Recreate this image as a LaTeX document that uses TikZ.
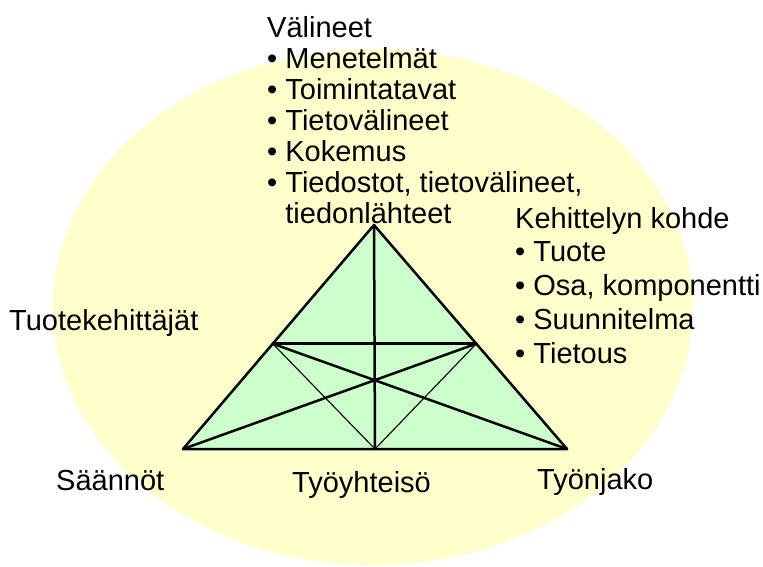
\documentclass[tikz,border=0pt]{standalone}
\usepackage{fontspec}
\setmainfont{Liberation Sans}
\usepackage{tikz}
\usetikzlibrary{calc}
\definecolor{ovalyellow}{HTML}{FFFFCC}
\definecolor{trigreen}{HTML}{CCFFCC}

\begin{document}
\begin{tikzpicture}[
    x=1pt, y=-1pt,
    txt/.style={font=\fontsize{29}{31}\selectfont, align=left, inner sep=0pt, anchor=base west},
    widetxt/.style={txt, font=\fontsize{29}{33.75}\selectfont},
    thickline/.style={line width=2.5pt, line join=round, line cap=round},
    thinline/.style={line width=1.1pt}
  ]
    \useasboundingbox (0,0) rectangle (763,566);
    \fill[ovalyellow] (373,307) ellipse [x radius=320, y radius=258];

    \coordinate (apex) at (374,225);
    \coordinate (bl) at (183,449);
    \coordinate (br) at (567,449);
    \coordinate (bm) at ($(bl)!0.5!(br)$);
    \coordinate (ml) at ($(bl)!0.47!(apex)$);
    \coordinate (mr) at ($(br)!0.47!(apex)$);

    \fill[trigreen] (bl) -- (apex) -- (br) -- cycle;
    \draw[thinline] (ml) -- (bm) -- (mr);
    \draw[thickline] (ml) -- (mr);
    \draw[thickline] (apex) -- (bm);
    \draw[thickline] (bl) -- (mr);
    \draw[thickline] (br) -- (ml);
    \draw[thickline] (bl) -- (apex) -- (br) -- cycle;

    % base anchor of a multi-line node sits on its last line
    \node[txt] (valineet) at (267,223) {Välineet\\• Menetelmät\\• Toimintatavat\\• Tietovälineet\\• Kokemus\\• Tiedostot, tietovälineet,\\\hphantom{•} tiedonlähteet};
    \node[widetxt] (kohde) at (515,363) {Kehittelyn kohde\\• Tuote\\• Osa, komponentti\\• Suunnitelma\\• Tietous};
    \node[txt] (kehittajat) at (9,330) {Tuotekehittäjät};
    \node[txt] (saannot) at (56,490) {Säännöt};
    \node[txt] (tyoyhteiso) at (292,492) {Työyhteisö};
    \node[txt] (tyonjako) at (537,489) {Työnjako};
  \end{tikzpicture}
\end{document}
